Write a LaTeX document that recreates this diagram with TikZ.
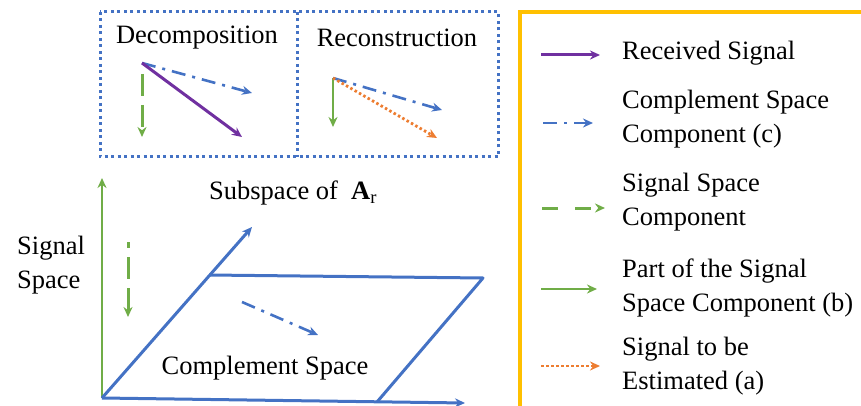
\documentclass[tikz,border=0pt]{standalone}
\usepackage{fontspec}
\setmainfont{Liberation Serif}
\usepackage{xcolor}
\usepackage{tikz}
\usetikzlibrary{arrows.meta}
\definecolor{sigpurple}{HTML}{7030A0}
\definecolor{compblue}{HTML}{4472C4}
\definecolor{spacegreen}{HTML}{70AD47}
\definecolor{estorange}{HTML}{ED7D31}
\definecolor{legendgold}{HTML}{FFC000}

\begin{document}
\begin{tikzpicture}[x=1pt, y=-1pt, >={Stealth[length=10pt, width=9pt]},
    every node/.style={inner sep=0pt},
    txt/.style={font=\fontsize{26.5}{34}\selectfont, align=left},
    recv/.style={->, sigpurple, line width=3pt},
    comp/.style={->, compblue, line width=2.6pt, dash pattern=on 14pt off 7pt on 3pt off 7pt},
    sspace/.style={->, spacegreen, line width=3pt, dash pattern=on 22pt off 9pt},
    part/.style={->, spacegreen, line width=2.6pt},
    esti/.style={->, estorange, line width=2.8pt, dash pattern=on 2.5pt off 2.5pt},
    plane/.style={compblue, line width=3pt},
    dotbox/.style={compblue, line width=3pt, dash pattern=on 3pt off 3.5pt}]

\useasboundingbox (0,0) rectangle (861,406);

% ── TOP: decomposition / reconstruction ──────────────────────────
\draw[dotbox] (100,12) rectangle (498,157);
\draw[dotbox] (297,12) -- (297,157);
\node[txt] (decomp) at (197,38) {Decomposition};
\node[txt] (recon) at (397,38) {Reconstruction};

% decomposition vectors
\coordinate (d-o) at (142,63);
\coordinate (d-c) at (252,93);
\coordinate (d-r) at (242,137);
\coordinate (d-s0) at (142,74);
\coordinate (d-s) at (142,137);
\draw[comp] (d-o) -- (d-c);
\draw[recv] (d-o) -- (d-r);
\draw[sspace] (d-s0) -- (d-s);

% reconstruction vectors
\coordinate (r-o) at (333,78);
\coordinate (r-b) at (333,127);
\coordinate (r-c) at (442,110);
\coordinate (r-a) at (437,138);
\draw[part] (r-o) -- (r-b);
\draw[comp] (r-o) -- (r-c);
\draw[esti] (r-o) -- (r-a);

% ── BOTTOM: signal space and complement plane ────────────────────
\coordinate (o) at (102,398);
\coordinate (sig-top) at (102,178);
\coordinate (sub-tip) at (252,227);
\coordinate (base-tip) at (465,403);
\coordinate (pl-tl) at (209,275);
\coordinate (pl-tr) at (483,278);
\coordinate (pl-br) at (377,402);
\draw[part] (o) -- (sig-top);
\draw[plane, ->] (o) -- (sub-tip);
\draw[plane, ->] (o) -- (base-tip);
\draw[plane, line join=round] (pl-tl) -- (pl-tr) -- (pl-br);

\coordinate (ss-a) at (128,242);
\coordinate (ss-b) at (128,317);
\draw[sspace, dash phase=16pt] (ss-a) -- (ss-b);
\coordinate (cs-a) at (242,302);
\coordinate (cs-b) at (318,335);
\draw[comp] (cs-a) -- (cs-b);

\node[txt, anchor=west] (sigspace) at (17,265) {Signal\\Space};
\node[txt, anchor=west] (subsp) at (209,193) {Subspace of \ \textbf{A}\textsubscript{r}};
\node[txt] (cspace) at (265,368) {Complement Space};

% ── LEGEND ───────────────────────────────────────────────────────
\draw[legendgold, line width=4pt] (520,12) rectangle (880,420);

\coordinate (l1a) at (541,55);  \coordinate (l1b) at (600,55);
\draw[recv] (l1a) -- (l1b);
\node[txt, anchor=west] (l1t) at (622,53) {Received Signal};

\coordinate (l2a) at (543,123); \coordinate (l2b) at (593,123);
\draw[comp] (l2a) -- (l2b);
\node[txt, anchor=west] (l2t) at (622,119) {Complement Space\\Component (c)};

\coordinate (l3a) at (542,208); \coordinate (l3b) at (605,208);
\draw[sspace, dash pattern=on 16pt off 17pt] (l3a) -- (l3b);
\node[txt, anchor=west] (l3t) at (622,202) {Signal Space\\Component};

\coordinate (l4a) at (541,289); \coordinate (l4b) at (597,289);
\draw[part] (l4a) -- (l4b);
\node[txt, anchor=west] (l4t) at (622,288) {Part of the Signal\\Space Component (b)};

\coordinate (l5a) at (541,366); \coordinate (l5b) at (600,366);
\draw[esti] (l5a) -- (l5b);
\node[txt, anchor=west] (l5t) at (622,366) {Signal to be\\Estimated (a)};

\end{tikzpicture}
\end{document}
